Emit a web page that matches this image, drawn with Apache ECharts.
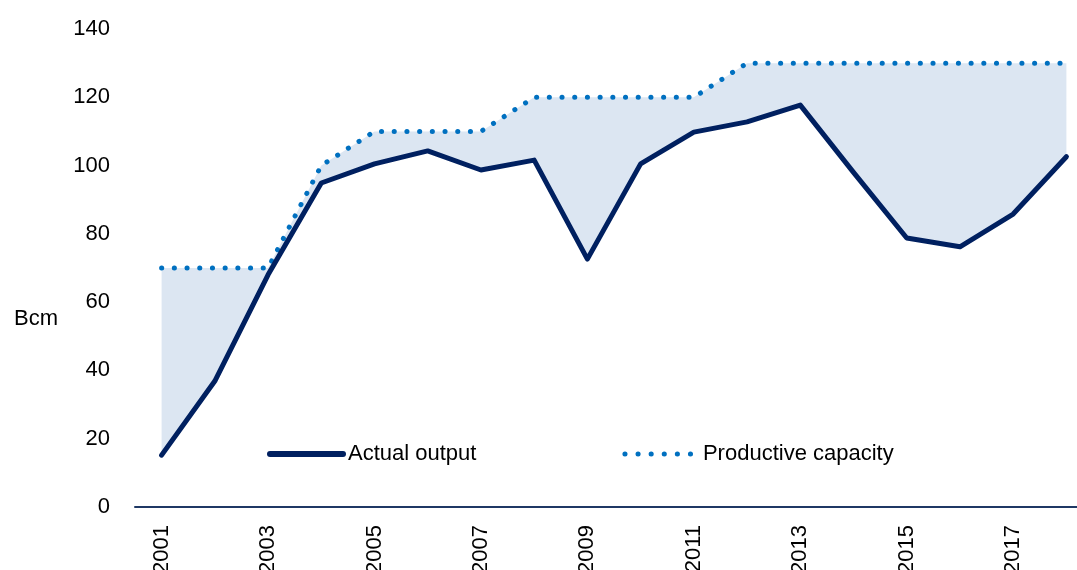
<!DOCTYPE html>
<html>
<head>
<meta charset="utf-8">
<script src="https://cdn.jsdelivr.net/npm/echarts@6/dist/echarts.min.js"></script>
<style>
  html, body { margin: 0; padding: 0; background: #fff; }
  #chart { width: 1077px; height: 570px; }
</style>
</head>
<body>
<div id="chart"></div>
<script>
var years = ['2001','2002','2003','2004','2005','2006','2007','2008','2009',
             '2010','2011','2012','2013','2014','2015','2016','2017','2018'];
var actualOutput = [15.2, 36.9, 68, 94.9, 100.5, 104.3, 98.7, 101.6, 72.6,
                    100.5, 109.8, 112.8, 117.7, 98, 78.8, 76.2, 85.8, 102.6];
var productiveCapacity = [70, 70, 70, 100, 110, 110, 110, 120, 120,
                          120, 120, 130, 130, 130, 130, 130, 130, 130];

var FONT = "'Liberation Sans', Arial, sans-serif";

var gap = productiveCapacity.map(function (c, i) { return c - actualOutput[i]; });

var chart = echarts.init(document.getElementById('chart'));
var option = {
    animation: false,
    grid: { left: 135, top: 29, width: 958, height: 478, containLabel: false, outerBoundsMode: 'none' },
    legend: {
        data: [
            { name: 'Actual output',
              lineStyle: { color: '#002060', width: 6, cap: 'round' } },
            { name: 'Productive capacity',
              lineStyle: { color: '#0070c0', width: 5, type: [0.1, 13], cap: 'round' } }
        ],
        left: 262,
        top: 438,
        itemWidth: 73,
        itemHeight: 14,
        itemGap: 146,
        itemStyle: { opacity: 0 },
        textStyle: { fontFamily: FONT, fontSize: 22, color: '#000' }
    },
    xAxis: {
        type: 'category',
        data: years,
        boundaryGap: true,
        axisLine: { lineStyle: { color: '#1f3864', width: 2 } },
        axisTick: { show: false },
        axisLabel: {
            interval: 1,
            rotate: 90,
            margin: 18,
            fontFamily: FONT,
            fontSize: 22,
            color: '#000'
        }
    },
    yAxis: {
        type: 'value',
        min: 0,
        max: 140,
        interval: 20,
        splitLine: { show: false },
        axisLine: { show: false },
        axisTick: { show: false },
        axisLabel: { margin: 25, fontFamily: FONT, fontSize: 22, color: '#000' }
    },
    graphic: [{
        type: 'text',
        left: 14,
        top: 308,
        style: { text: 'Bcm', fontFamily: FONT, fontSize: 22, fill: '#000' }
    }],
    series: [
        {
            name: 'Actual output',
            type: 'line',
            stack: 'band',
            data: actualOutput,
            symbol: 'none',
            z: 4,
            lineStyle: { color: '#002060', width: 5, cap: 'round', join: 'round' },
            itemStyle: { color: '#002060' }
        },
        {
            name: 'gap',
            type: 'line',
            stack: 'band',
            data: gap,
            symbol: 'none',
            z: 1,
            lineStyle: { width: 0, opacity: 0 },
            areaStyle: { color: '#dce6f2', opacity: 1 }
        },
        {
            name: 'Productive capacity',
            type: 'line',
            data: productiveCapacity,
            symbol: 'none',
            z: 3,
            lineStyle: { color: '#0070c0', width: 5, type: [0.1, 12.6], cap: 'round' },
            itemStyle: { color: '#0070c0' }
        }
    ]
};
chart.setOption(option);
window.onresize = chart.resize;
</script>
</body>
</html>
